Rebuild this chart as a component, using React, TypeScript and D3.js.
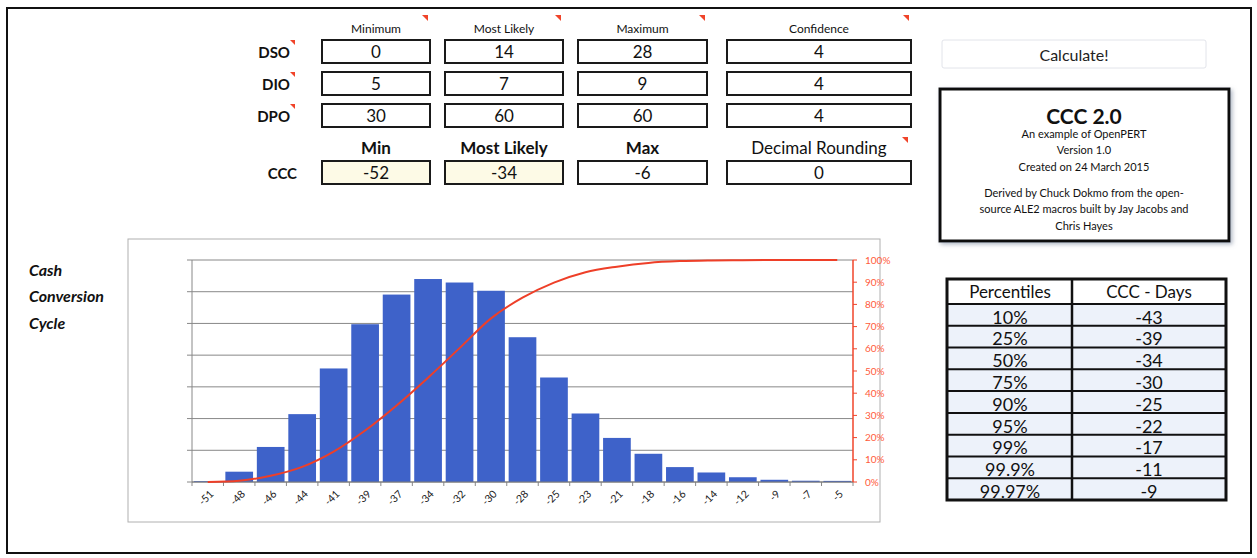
import React from 'react';
import * as d3 from 'd3';

// CCC histogram bins (days) and their simulated probability
const categories = [-51, -48, -46, -44, -41, -39, -37, -34, -32, -30, -28, -25, -23, -21, -18, -16, -14, -12, -9, -7, -5];
const frequency = [0.0005, 0.0065, 0.0221, 0.0428, 0.0716, 0.0995, 0.1182, 0.128, 0.1258, 0.1206, 0.0913, 0.0659, 0.0432, 0.0278, 0.0178, 0.0094, 0.006, 0.003, 0.0014, 0.0008, 0.0007];
const cumulative = [0.0, 0.006, 0.028, 0.068, 0.137, 0.232, 0.345, 0.47, 0.603, 0.737, 0.83, 0.898, 0.945, 0.97, 0.987, 0.995, 0.998, 0.999, 1.0, 1.0, 1.0];
const leftGrid = [0, 0.02, 0.04, 0.06, 0.08, 0.1, 0.12, 0.14];
const rightTicks = [0, 0.1, 0.2, 0.3, 0.4, 0.5, 0.6, 0.7, 0.8, 0.9, 1.0];

// Input grid
const inputHeaders = ['Minimum', 'Most Likely', 'Maximum', 'Confidence'];
const inputRows = ['DSO', 'DIO', 'DPO'];
const dsoValues = [0, 14, 28, 4];
const dioValues = [5, 7, 9, 4];
const dpoValues = [30, 60, 60, 4];
const cccHeaders = ['Min', 'Most Likely', 'Max', 'Decimal Rounding'];
const cccValues = [-52, -34, -6, 0];

// Percentile summary
const percentileLabels = ['10%', '25%', '50%', '75%', '90%', '95%', '99%', '99.9%', '99.97%'];
const percentileDays = [-43, -39, -34, -30, -25, -22, -17, -11, -9];

const infoTitle = 'CCC 2.0';
const infoLines = ['An example of OpenPERT', 'Version 1.0', 'Created on 24 March 2015'];
const infoCredits = ['Derived by Chuck Dokmo from the open-', 'source ALE2 macros built by Jay Jacobs and', 'Chris Hayes'];
const sideTitle = ['Cash', 'Conversion', 'Cycle'];

const FONT = 'Lato, "Open Sans", sans-serif';
const RED = '#f0442a';

const colLeft = [322, 445, 578, 727];
const colRight = [430, 563, 707, 911];
const rowTop = [40, 72, 104];
const boxH = 23;

function Tri({ x, y, s = 6 }: { x: number; y: number; s?: number }) {
  return <polygon points={`${x - s},${y} ${x},${y} ${x},${y + s}`} fill={RED} />;
}

function Chart() {
  const left = 192, right = 853, top = 260, bottom = 482;
  const x = d3.scaleBand<string>().domain(categories.map(String)).range([left, right]).paddingInner(0.12).paddingOuter(0.06);
  const step = x.step();
  const yL = d3.scaleLinear().domain([0, 0.14]).range([bottom, top]);
  const yR = d3.scaleLinear().domain([0, 1]).range([bottom, top]);
  const center = (c: number) => (x(String(c)) as number) + x.bandwidth() / 2;
  const line = d3.line<number>()
    .x((_, i) => center(categories[i]))
    .y((d) => yR(d))
    .curve(d3.curveMonotoneX);
  const pct = d3.format('.0%');
  const bounds = d3.range(categories.length + 1).map((i) => left + i * step);

  return (
    <g>
      <rect x={128} y={239} width={752} height={283} fill="#fff" stroke="#b0b0b0" strokeWidth={1} />
      {leftGrid.map((g) => (
        <g key={g}>
          <line x1={left} x2={right} y1={yL(g)} y2={yL(g)} stroke="#888" strokeWidth={1} />
          <line x1={left - 5} x2={left} y1={yL(g)} y2={yL(g)} stroke="#888" strokeWidth={1} />
        </g>
      ))}
      <line x1={left} x2={left} y1={top} y2={bottom} stroke="#888" strokeWidth={1} />
      {bounds.map((b, i) => (
        <line key={i} x1={b} x2={b} y1={bottom} y2={bottom + 4} stroke="#888" strokeWidth={1} />
      ))}
      {categories.map((c, i) => (
        <rect key={c} x={x(String(c))} y={yL(frequency[i])} width={x.bandwidth()} height={bottom - yL(frequency[i])} fill="#3e62c9" />
      ))}
      <line x1={left} x2={right} y1={bottom} y2={bottom} stroke="#7a7a7a" strokeWidth={1} />
      <path d={line(cumulative) || ''} fill="none" stroke="#ee3f28" strokeWidth={2} />
      <line x1={right} x2={right} y1={top} y2={bottom} stroke={RED} strokeWidth={1.5} />
      {rightTicks.map((t) => (
        <g key={t}>
          <line x1={right} x2={right + 4} y1={yR(t)} y2={yR(t)} stroke={RED} strokeWidth={1} />
          <text x={right + 12} y={yR(t)} dy="0.35em" fontSize={10} fill="#ff5a3a" fontFamily={FONT}>{pct(t)}</text>
        </g>
      ))}
      {categories.map((c) => (
        <text key={c} transform={`translate(${center(c) + 4},${bottom + 10}) rotate(-45)`} textAnchor="end" dy="0.35em" fontSize={10.5} fill="#1a1a1a" fontFamily={FONT}>{String(c)}</text>
      ))}
    </g>
  );
}

export default function App() {
  const inputValues = [dsoValues, dioValues, dpoValues];
  const pRowTop = 304;
  const pRowH = (500 - pRowTop) / percentileLabels.length;
  return (
    <div style={{ position: 'fixed', left: 0, top: 0 }}>
      <svg width={1257} height={558} style={{ display: 'block', background: '#fff' }} fontFamily={FONT}>
        <defs>
          <filter id="shadow" x="-10%" y="-10%" width="120%" height="130%">
            <feDropShadow dx="2" dy="2" stdDeviation="2" floodColor="#7f8aa0" floodOpacity="0.6" />
          </filter>
        </defs>
        <rect x={0} y={0} width={1257} height={558} fill="#fff" />
        <rect x={7} y={8} width={1244} height={545} fill="none" stroke="#111" strokeWidth={2} />

        {/* input headers */}
        {inputHeaders.map((h, i) => (
          <g key={h}>
            <text x={(colLeft[i] + colRight[i]) / 2} y={29} dy="0.35em" textAnchor="middle" fontSize={12} fill="#111">{h}</text>
            <Tri x={colRight[i] - 2} y={15} />
          </g>
        ))}
        {inputRows.map((r, ri) => (
          <g key={r}>
            <text x={290} y={rowTop[ri] + boxH / 2 + 1} dy="0.35em" textAnchor="end" fontSize={15} fontWeight={700} fill="#111">{r}</text>
            <Tri x={295} y={rowTop[ri]} s={5} />
            {inputValues[ri].map((v, ci) => (
              <g key={ci}>
                <rect x={colLeft[ci]} y={rowTop[ri]} width={colRight[ci] - colLeft[ci]} height={boxH} fill="#fff" stroke="#1a1a1a" strokeWidth={2} />
                <text x={(colLeft[ci] + colRight[ci]) / 2} y={rowTop[ri] + boxH / 2 + 1} dy="0.35em" textAnchor="middle" fontSize={17} fill="#111">{v}</text>
              </g>
            ))}
          </g>
        ))}
        {cccHeaders.map((h, i) => (
          <text key={h} x={(colLeft[i] + colRight[i]) / 2} y={148} dy="0.35em" textAnchor="middle" fontSize={17} fontWeight={i < 3 ? 700 : 400} fill="#111">{h}</text>
        ))}
        <Tri x={908} y={137} />
        <text x={297} y={174} dy="0.35em" textAnchor="end" fontSize={15} fontWeight={700} fill="#111">CCC</text>
        {cccValues.map((v, ci) => (
          <g key={ci}>
            <rect x={colLeft[ci]} y={161} width={colRight[ci] - colLeft[ci]} height={boxH} fill={ci < 2 ? '#fdfae6' : '#fff'} stroke="#1a1a1a" strokeWidth={2} />
            <text x={(colLeft[ci] + colRight[ci]) / 2} y={161 + boxH / 2 + 1} dy="0.35em" textAnchor="middle" fontSize={17} fill="#111">{v}</text>
          </g>
        ))}

        {/* button */}
        <rect x={942} y={40} width={264} height={28} rx={2} fill="#fff" stroke="#e2e4ea" strokeWidth={1} />
        <text x={1074} y={55} dy="0.35em" textAnchor="middle" fontSize={16} fill="#222">Calculate!</text>

        {/* info box */}
        <rect x={940} y={89} width={289} height={152} fill="#fff" stroke="#111" strokeWidth={3} filter="url(#shadow)" />
        <text x={1084} y={117} dy="0.35em" textAnchor="middle" fontSize={21} fontWeight={700} fill="#111">{infoTitle}</text>
        {infoLines.map((l, i) => (
          <text key={l} x={1084} y={134 + i * 16.5} dy="0.35em" textAnchor="middle" fontSize={11} fill="#111">{l}</text>
        ))}
        {infoCredits.map((l, i) => (
          <text key={l} x={1084} y={193 + i * 16.5} dy="0.35em" textAnchor="middle" fontSize={11} fill="#111">{l}</text>
        ))}

        {/* percentile table */}
        <rect x={947} y={pRowTop} width={279} height={500 - pRowTop} fill="#edf2fa" />
        <text x={1010} y={292} dy="0.35em" textAnchor="middle" fontSize={17} fill="#111">Percentiles</text>
        <text x={1149} y={292} dy="0.35em" textAnchor="middle" fontSize={17} fill="#111">CCC - Days</text>
        {percentileLabels.map((p, i) => (
          <g key={p}>
            <line x1={947} x2={1226} y1={pRowTop + i * pRowH} y2={pRowTop + i * pRowH} stroke="#111" strokeWidth={2} />
            <text x={1010} y={pRowTop + i * pRowH + pRowH / 2 + 2.5} dy="0.35em" textAnchor="middle" fontSize={18} fill="#111">{p}</text>
            <text x={1149} y={pRowTop + i * pRowH + pRowH / 2 + 2.5} dy="0.35em" textAnchor="middle" fontSize={18} fill="#111">{percentileDays[i]}</text>
          </g>
        ))}
        <line x1={1072} x2={1072} y1={279} y2={500} stroke="#111" strokeWidth={2.5} />
        <rect x={947} y={279} width={279} height={221} fill="none" stroke="#111" strokeWidth={3} />

        {/* side title */}
        {sideTitle.map((t, i) => (
          <text key={t} x={29} y={270 + i * 26.5} dy="0.35em" fontSize={16} fontWeight={700} fontStyle="italic" fill="#111">{t}</text>
        ))}

        <Chart />
      </svg>
    </div>
  );
}
